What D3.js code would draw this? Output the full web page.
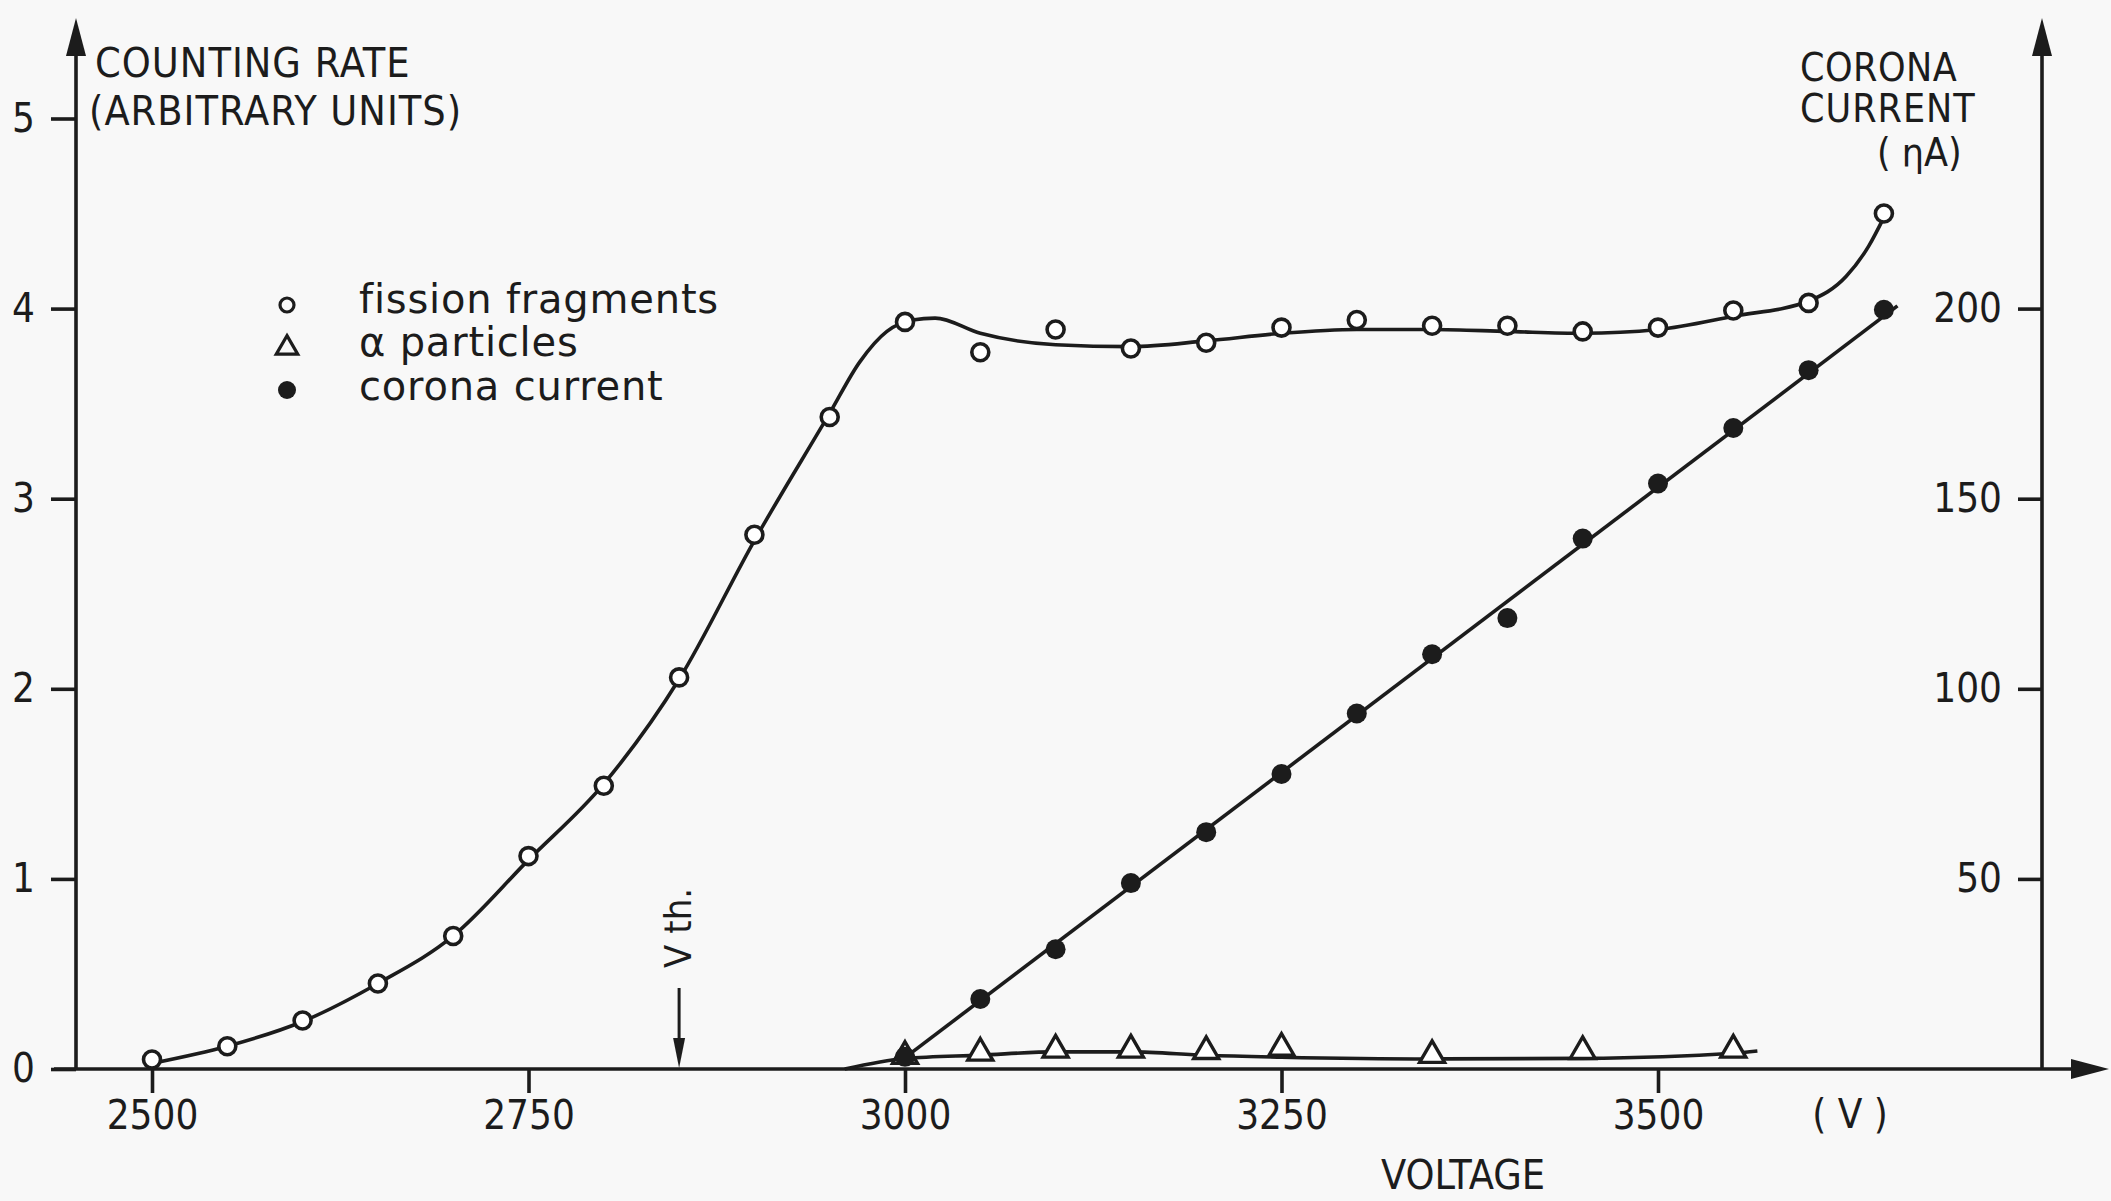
<!DOCTYPE html>
<html><head><meta charset="utf-8">
<script src="https://cdn.jsdelivr.net/npm/d3@7"></script>
<style>html,body{margin:0;padding:0;background:#f8f8f8;} svg{display:block}</style>
</head><body><svg id="c" width="2111" height="1201"></svg>
<script>
// ---- data ----
const fissionV    = [2500,2550,2600,2650,2700,2750,2800,2850,2900,2950,3000,3050,3100,3150,3200,3250,3300,3350,3400,3450,3500,3550,3600,3650];
const fissionRate = [0.05,0.12,0.255,0.45,0.70,1.12,1.49,2.06,2.81,3.43,3.93,3.77,3.89,3.79,3.82,3.90,3.94,3.91,3.91,3.88,3.90,3.99,4.03,4.50];
const fissionFitV    = [2500,2550,2600,2650,2700,2750,2800,2850,2900,2950,2970,2988,3005,3020,3050,3100,3150,3200,3250,3300,3350,3400,3450,3500,3550,3600,3625,3640,3650];
const fissionFitRate = [0.03,0.12,0.25,0.45,0.70,1.10,1.50,2.05,2.78,3.45,3.72,3.88,3.94,3.95,3.87,3.81,3.80,3.83,3.87,3.89,3.89,3.88,3.87,3.89,3.96,4.04,4.17,4.33,4.48];
const alphaV    = [3000,3050,3100,3150,3200,3250,3350,3450,3550];
const alphaRate = [0.057,0.074,0.09,0.09,0.083,0.10,0.062,0.083,0.09];
const alphaFitV    = [2960,3000,3050,3100,3150,3200,3250,3350,3450,3550,3566];
const alphaFitRate = [0,0.055,0.073,0.09,0.09,0.072,0.062,0.053,0.056,0.083,0.095];
const coronaV  = [3000,3050,3100,3150,3200,3250,3300,3350,3400,3450,3500,3550,3600,3650];
const coronaNA = [3.2,18.4,31.5,48.9,62.3,77.6,93.5,109.1,118.6,139.5,154.0,168.6,183.8,199.7];
const coronaFitV  = [3000,3659];
const coronaFitNA = [3,200.7];
const leftTicks  = [0,1,2,3,4,5];
const rightTicks = [50,100,150,200];
const xTicks     = [2500,2750,3000,3250,3500];
const vth = 2850;
const legendLabels = ["fission fragments","α particles","corona current"];

// ---- drawing ----
const INK = "#1c1c1c";
const SW = 3.6;
const svg = d3.select("#c");
svg.append("rect").attr("width",2111).attr("height",1201).attr("fill","#f8f8f8");

const x  = d3.scaleLinear().domain([2500,3500]).range([152,1658]);
const y  = d3.scaleLinear().domain([0,5]).range([1069,118.5]);
const yR = d3.scaleLinear().domain([0,250]).range([1069,118.5]);
const AXL = 76, AXR = 2042, AXB = 1069;
const condensed = "'DejaVu Sans Condensed','DejaVu Sans',sans-serif";
const regular = "'DejaVu Sans',sans-serif";

function styleAxis(g){
  g.select(".domain").remove();
  g.selectAll(".tick line").attr("stroke",INK).attr("stroke-width",SW);
  g.selectAll(".tick text").attr("fill",INK).attr("font-family",condensed)
    .style("font-stretch","condensed").attr("font-size",40);
}
// left axis
svg.append("g").attr("transform",`translate(${AXL},0)`)
  .call(d3.axisLeft(y).tickValues(leftTicks).tickSize(25).tickPadding(16).tickFormat(d3.format("d")))
  .call(styleAxis);
// right axis
svg.append("g").attr("transform",`translate(${AXR},0)`)
  .call(d3.axisLeft(yR).tickValues(rightTicks).tickSize(24).tickPadding(16).tickFormat(d3.format("d")))
  .call(styleAxis);
// bottom axis
svg.append("g").attr("transform",`translate(0,${AXB})`)
  .call(d3.axisBottom(x).tickValues(xTicks).tickSize(24).tickPadding(8).tickFormat(d3.format("d")))
  .call(styleAxis);

// axis lines with arrows
const ax = svg.append("g").attr("stroke",INK).attr("stroke-width",SW);
ax.append("line").attr("x1",AXL).attr("x2",AXL).attr("y1",AXB).attr("y2",40);
ax.append("line").attr("x1",AXR).attr("x2",AXR).attr("y1",AXB).attr("y2",40);
ax.append("line").attr("x1",54).attr("x2",2085).attr("y1",AXB).attr("y2",AXB);
const arr = svg.append("g").attr("fill",INK);
arr.append("path").attr("d",`M${AXL},18 L${AXL-10},56 L${AXL+10},56 Z`);
arr.append("path").attr("d",`M${AXR},18 L${AXR-10},56 L${AXR+10},56 Z`);
arr.append("path").attr("d",`M2109,${AXB} L2071,${AXB-10} L2071,${AXB+10} Z`);

// curves
const lineG = d3.line().curve(d3.curveMonotoneX);
svg.append("path")
  .attr("d", lineG(fissionFitV.map((v,i)=>[x(v), y(fissionFitRate[i])])))
  .attr("fill","none").attr("stroke",INK).attr("stroke-width",SW);
svg.append("path")
  .attr("d", lineG(alphaFitV.map((v,i)=>[x(v), y(alphaFitRate[i])])))
  .attr("fill","none").attr("stroke",INK).attr("stroke-width",SW);
svg.append("path")
  .attr("d", d3.line()(coronaFitV.map((v,i)=>[x(v), yR(coronaFitNA[i])])))
  .attr("fill","none").attr("stroke",INK).attr("stroke-width",SW);

// markers
svg.append("g").selectAll("circle").data(fissionV).join("circle")
  .attr("cx",d=>x(d)).attr("cy",(d,i)=>y(fissionRate[i])).attr("r",8.5)
  .attr("fill","#fff").attr("stroke",INK).attr("stroke-width",3.6);
const tri = d3.symbol().type(d3.symbolTriangle).size(270);
svg.append("g").selectAll("path").data(alphaV).join("path")
  .attr("transform",(d,i)=>`translate(${x(d)},${y(alphaRate[i])-2})`)
  .attr("d",tri).attr("fill","#fff").attr("stroke",INK).attr("stroke-width",3.4);
svg.append("g").selectAll("circle").data(coronaV).join("circle")
  .attr("cx",d=>x(d)).attr("cy",(d,i)=>yR(coronaNA[i])).attr("r",10)
  .attr("fill",INK);

// Vth arrow
const vx = x(vth);
svg.append("line").attr("x1",vx).attr("x2",vx).attr("y1",988).attr("y2",1050)
  .attr("stroke",INK).attr("stroke-width",3);
svg.append("path").attr("d",`M${vx},${AXB-1} L${vx-6},1038 L${vx+6},1038 Z`).attr("fill",INK);
svg.append("text").attr("transform",`translate(${vx+12},968) rotate(-90)`)
  .attr("font-family",condensed).style("font-stretch","condensed").attr("font-size",38)
  .attr("fill",INK).text("V th.");

// text labels
function txt(t,xx,yy,size,opts={}){
  const e = svg.append("text").attr("x",xx).attr("y",yy).attr("fill",INK)
    .attr("font-family",opts.fam||condensed).style("font-stretch",opts.fam?"normal":"condensed")
    .attr("font-size",size).attr("letter-spacing",opts.ls||0)
    .attr("text-anchor",opts.anchor||"start").text(t);
  return e;
}
txt("COUNTING RATE",95,77,41,{ls:1});
txt("(ARBITRARY UNITS)",89,125,41,{ls:1});
txt("CORONA",1800,81,39,{ls:0.5});
txt("CURRENT",1800,122,39,{ls:1});
txt("( ηA)",1877,166,39);
txt("( V )",1850,1128,40,{anchor:"middle"});
txt("VOLTAGE",1463,1189,41,{anchor:"middle"});

// legend
const lg = svg.append("g");
const legY = [305,348,390];
lg.append("circle").attr("cx",287).attr("cy",legY[0]).attr("r",7).attr("fill","none").attr("stroke",INK).attr("stroke-width",3.2);
lg.append("path").attr("transform",`translate(287,${legY[1]})`).attr("d",d3.symbol().type(d3.symbolTriangle).size(200)).attr("fill","none").attr("stroke",INK).attr("stroke-width",3.2);
lg.append("circle").attr("cx",287).attr("cy",legY[2]).attr("r",9).attr("fill",INK);
legendLabels.forEach((l,i)=>{
  txt(l,359,[313,356,400][i],40,{fam:regular,ls:0.8});
});
</script></body></html>
